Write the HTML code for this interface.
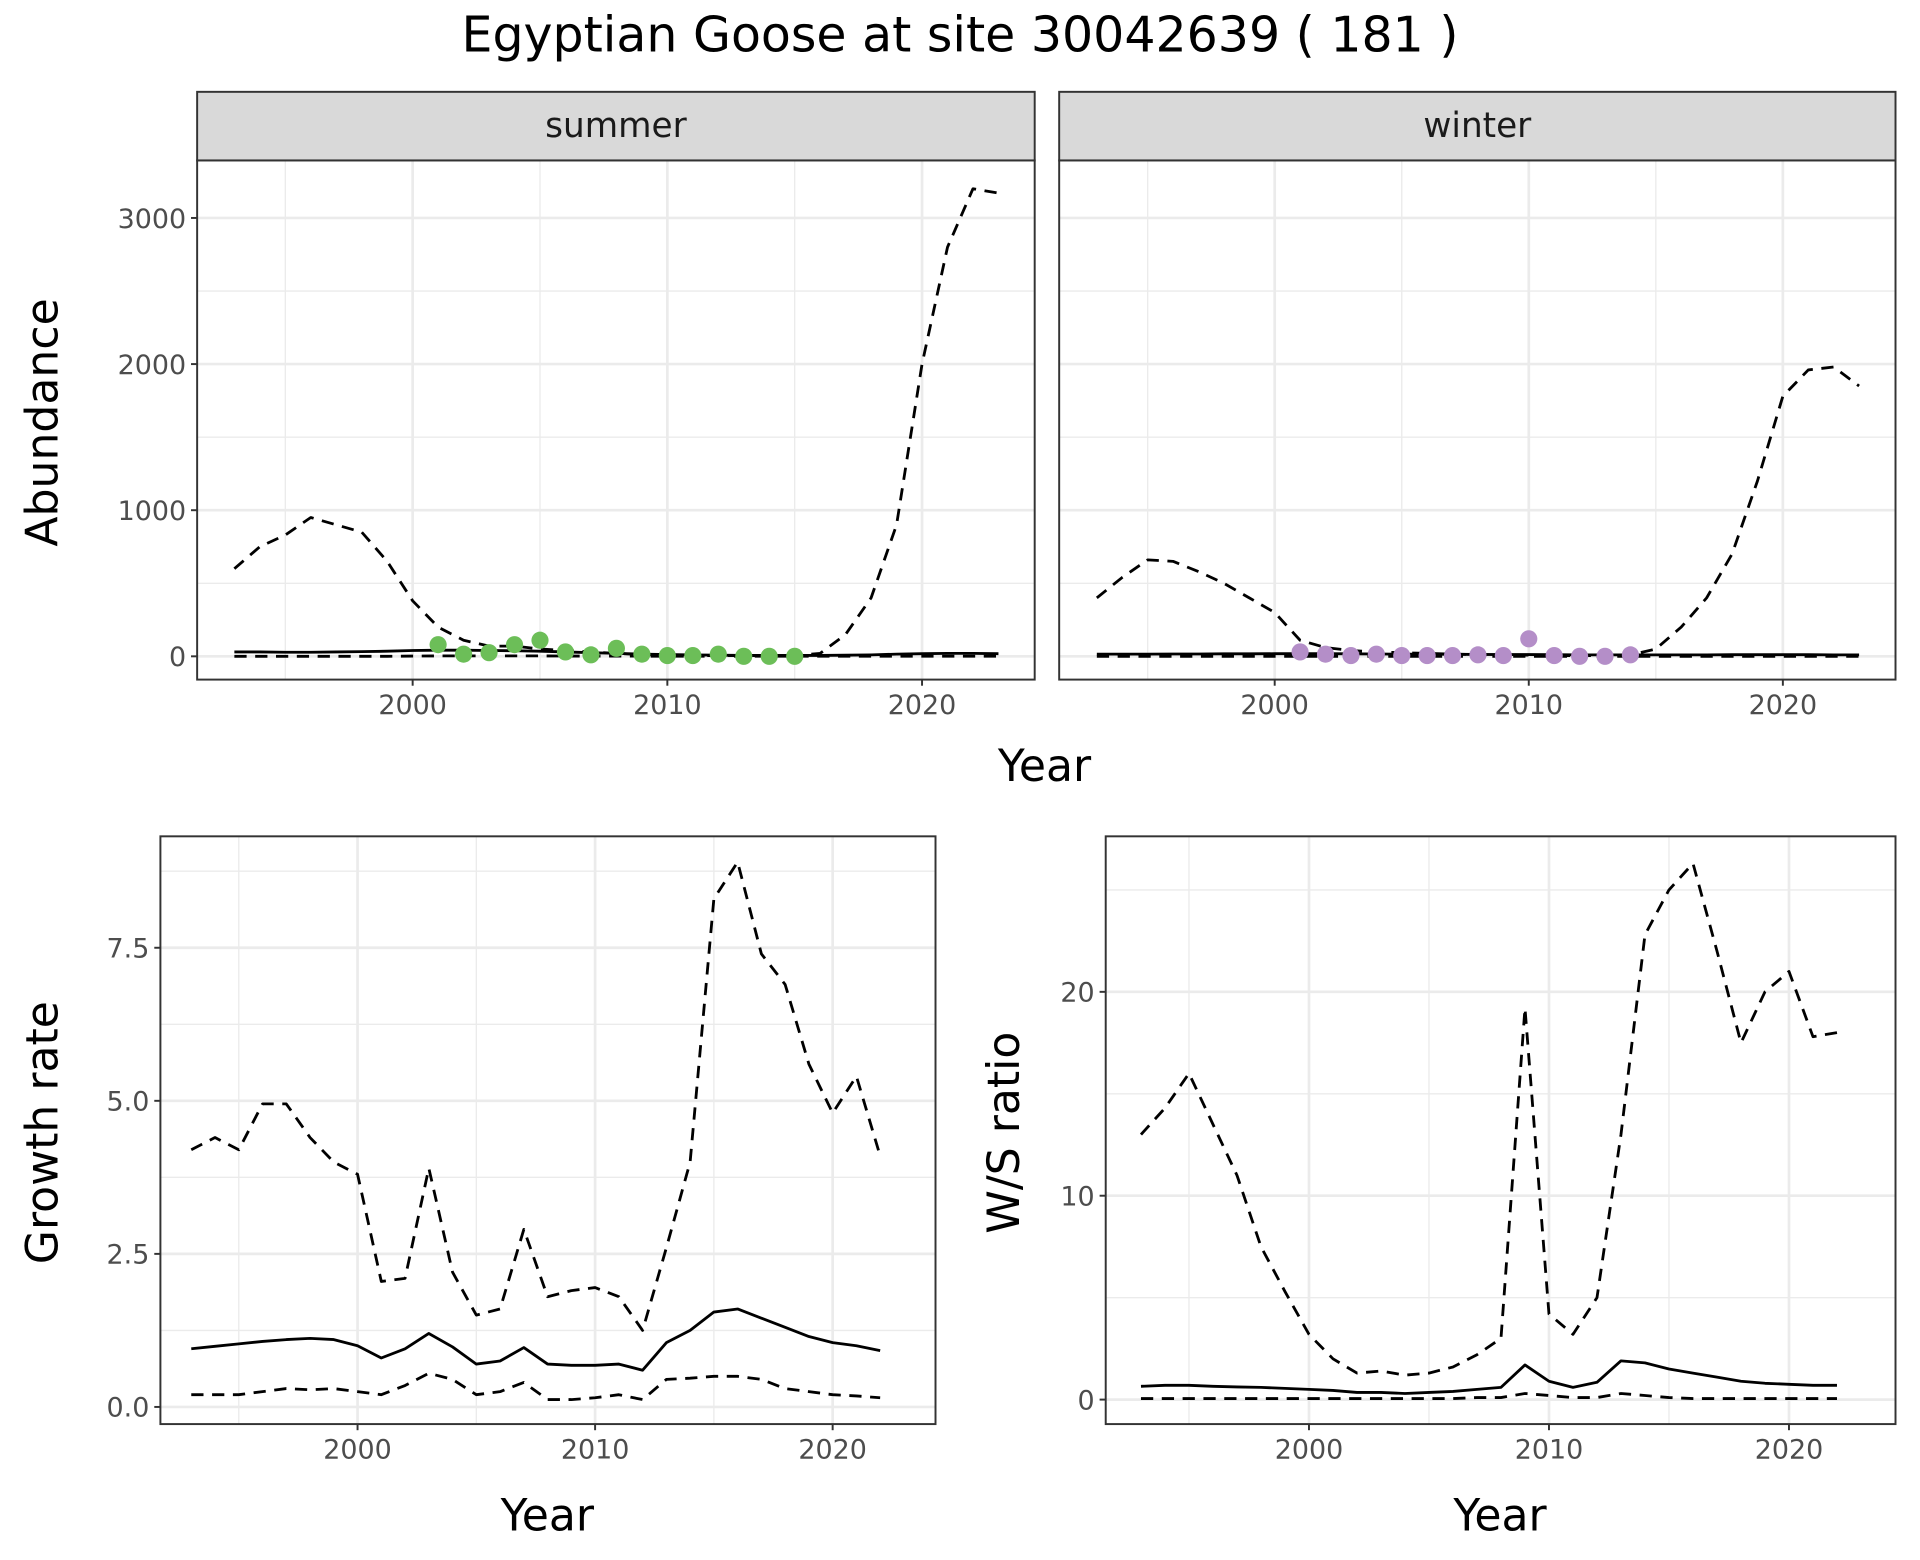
<!DOCTYPE html>
<html><head><meta charset="utf-8"><style>
html,body{margin:0;padding:0;background:#fff}
svg{display:block}
text{font-family:"DejaVu Sans","Liberation Sans",sans-serif}
</style></head><body>
<svg id="chart" width="1920" height="1560" viewBox="0 0 1568 1274" preserveAspectRatio="none" xmlns="http://www.w3.org/2000/svg">
<rect x="0" y="0" width="1568" height="1274" fill="#fff"/>
<text x="784" y="42" text-anchor="middle" font-size="40" fill="#000">Egyptian Goose at site 30042639 ( 181 )</text>
<g id="layer"></g>
</svg>
<script>
const yearsA = [1993,1994,1995,1996,1997,1998,1999,2000,2001,2002,2003,2004,2005,2006,2007,2008,2009,2010,2011,2012,2013,2014,2015,2016,2017,2018,2019,2020,2021,2022,2023];
const summerUpper = [600,750,830,950,900,850,650,380,200,110,70,70,50,40,30,20,12,8,5,5,5,5,5,20,150,400,900,2000,2800,3200,3170];
const summerMid = [30,30,28,28,30,32,35,40,42,42,40,38,35,30,25,20,15,12,10,8,6,6,6,6,8,10,15,18,20,20,18];
const summerLower = [0,0,0,0,0,0,0,2,3,3,3,3,3,2,2,2,1,1,1,1,1,1,1,1,1,1,1,1,1,1,1];
const winterUpper = [400,540,660,650,580,500,400,300,110,60,40,30,25,20,15,12,10,8,5,5,5,10,50,200,400,700,1200,1780,1960,1980,1850];
const winterMid = [15,15,15,16,16,17,17,18,18,18,17,16,15,15,14,13,12,12,11,10,10,10,10,10,10,11,11,11,11,10,10];
const winterLower = [0,0,0,0,0,0,0,0,0,0,0,0,0,0,0,0,0,0,0,0,0,0,0,0,0,0,0,0,0,0,0];
const summerPtYears = [2001,2002,2003,2004,2005,2006,2007,2008,2009,2010,2011,2012,2013,2014,2015];
const summerPtVals = [80,15,25,80,110,30,10,55,15,5,5,15,0,0,0];
const winterPtYears = [2001,2002,2003,2004,2005,2006,2007,2008,2009,2010,2011,2012,2013,2014];
const winterPtVals = [30,15,5,15,5,5,5,10,5,120,5,0,0,10];
const yearsB = [1993,1994,1995,1996,1997,1998,1999,2000,2001,2002,2003,2004,2005,2006,2007,2008,2009,2010,2011,2012,2013,2014,2015,2016,2017,2018,2019,2020,2021,2022];
const growthUpper = [4.2,4.4,4.2,4.95,4.95,4.4,4.0,3.8,2.05,2.1,3.9,2.2,1.5,1.6,2.9,1.8,1.9,1.95,1.8,1.25,2.6,4.0,8.3,8.9,7.4,6.9,5.6,4.8,5.4,4.1];
const growthMid = [0.95,0.99,1.03,1.07,1.1,1.12,1.1,1.0,0.8,0.95,1.2,0.98,0.7,0.75,0.97,0.7,0.68,0.68,0.7,0.6,1.05,1.25,1.55,1.6,1.45,1.3,1.15,1.05,1.0,0.92];
const growthLower = [0.2,0.2,0.2,0.25,0.3,0.28,0.3,0.25,0.2,0.35,0.55,0.45,0.2,0.25,0.4,0.12,0.12,0.15,0.2,0.12,0.45,0.47,0.5,0.5,0.45,0.3,0.25,0.2,0.18,0.15];
const ratioUpper = [13,14.3,16,13.5,11,7.5,5.3,3.2,2.0,1.3,1.4,1.2,1.3,1.6,2.2,3.0,19.2,4.2,3.2,5,13,22.8,25,26.3,22,17.5,20,21,17.8,18];
const ratioMid = [0.65,0.7,0.7,0.65,0.62,0.6,0.55,0.5,0.45,0.35,0.35,0.3,0.35,0.4,0.5,0.6,1.7,0.9,0.6,0.85,1.9,1.8,1.5,1.3,1.1,0.9,0.8,0.75,0.7,0.7];
const ratioLower = [0.05,0.05,0.05,0.05,0.05,0.05,0.05,0.05,0.05,0.05,0.05,0.05,0.05,0.05,0.1,0.1,0.3,0.2,0.1,0.1,0.3,0.2,0.1,0.05,0.05,0.05,0.05,0.05,0.05,0.05];
const yTicksA = [0,1000,2000,3000];
const yTickLabelsA = ['0','1000','2000','3000'];
const yTicksGrowth = [0,2.5,5,7.5];
const yTickLabelsGrowth = ['0.0','2.5','5.0','7.5'];
const yTicksRatio = [0,10,20];
const yTickLabelsRatio = ['0','10','20'];
const xTicks = [2000,2010,2020];
const xTickLabels = ['2000','2010','2020'];

const NS='http://www.w3.org/2000/svg';
const layer=document.getElementById('layer');
function mk(tag,attrs,parent){const e=document.createElementNS(NS,tag);for(const k in attrs)e.setAttribute(k,attrs[k]);(parent||layer).appendChild(e);return e;}
function lin(d0,d1,r0,r1){return v=>r0+(v-d0)*(r1-r0)/(d1-d0);}

function panel(o){
  const g=mk('g',{});
  
  
  const sx=lin(2000,2020,o.x2000,o.x2020), sy=lin(o.yv0,o.yv1,o.yp0,o.yp1);
  mk('rect',{x:o.l,y:o.t,width:o.r-o.l,height:o.b-o.t,fill:'#fff'},g);
  const minorY=[];for(let i=0;i<o.yTicks.length-1;i++)minorY.push((o.yTicks[i]+o.yTicks[i+1])/2);
  minorY.push(o.yTicks[o.yTicks.length-1]+(o.yTicks[1]-o.yTicks[0])/2);
  minorY.forEach(v=>{const y=sy(v);if(y>o.t&&y<o.b)mk('line',{x1:o.l,x2:o.r,y1:y,y2:y,stroke:'#ebebeb','stroke-width':1.1},g);});
  [1995,2005,2015].forEach(v=>{const x=sx(v);mk('line',{x1:x,x2:x,y1:o.t,y2:o.b,stroke:'#ebebeb','stroke-width':1.1},g);});
  o.yTicks.forEach(v=>{const y=sy(v);mk('line',{x1:o.l,x2:o.r,y1:y,y2:y,stroke:'#ebebeb','stroke-width':2.2},g);});
  xTicks.forEach(v=>{const x=sx(v);mk('line',{x1:x,x2:x,y1:o.t,y2:o.b,stroke:'#ebebeb','stroke-width':2.2},g);});
  const sw=2.3;
  o.series.forEach(s=>{
    const p=mk('polyline',{points:s.vals.map((v,i)=>sx(s.years[i])+','+sy(v)).join(' '),fill:'none',stroke:'#000','stroke-width':sw,'stroke-linejoin':'round'},g);
    if(s.dash)p.setAttribute('stroke-dasharray','10,7');
    
    
  });
  if(o.points){o.points.vals.forEach((v,i)=>{
    const c=mk('circle',{cx:sx(o.points.years[i]),cy:sy(v),r:7,fill:o.points.color},g);
    
    
  });}
  mk('rect',{x:o.l,y:o.t,width:o.r-o.l,height:o.b-o.t,fill:'none',stroke:'#333','stroke-width':1.6},g);
  if(o.showY){o.yTicks.forEach((v,i)=>{const y=sy(v);
    mk('line',{x1:o.l-5,x2:o.l,y1:y,y2:y,stroke:'#333','stroke-width':1.6},g);
    const t=mk('text',{x:o.l-9,y:y+8,'text-anchor':'end','font-size':22,fill:'#4d4d4d'},g);t.textContent=o.yLabels[i];
    
    
  });}
  xTicks.forEach((v,i)=>{const x=sx(v);
    mk('line',{x1:x,x2:x,y1:o.b,y2:o.b+5,stroke:'#333','stroke-width':1.6},g);
    const t=mk('text',{x:x,y:o.b+28,'text-anchor':'middle','font-size':22,fill:'#4d4d4d'},g);t.textContent=xTickLabels[i];
    
    
  });
  if(o.strip){
    mk('rect',{x:o.l,y:o.t-56,width:o.r-o.l,height:56,fill:'#d9d9d9',stroke:'#333','stroke-width':1.6},g);
    const t=mk('text',{x:(o.l+o.r)/2,y:o.t-19,'text-anchor':'middle','font-size':28,fill:'#1a1a1a'},g);t.textContent=o.strip;
    
    
  }
  return g;
}
panel({name:'summer-panel',l:161,r:845,t:131,b:555,x2000:337,x2020:753,yv0:0,yv1:3000,yp0:536,yp1:178,yTicks:yTicksA,yLabels:yTickLabelsA,showY:true,strip:'summer',
  series:[{name:'summer-upper-line',years:yearsA,vals:summerUpper,dash:true},{name:'summer-lower-line',years:yearsA,vals:summerLower,dash:true},{name:'summer-mid-line',years:yearsA,vals:summerMid}],
  points:{years:summerPtYears,vals:summerPtVals,color:'#6cbe58'}});
panel({name:'winter-panel',l:865,r:1548,t:131,b:555,x2000:1041,x2020:1456,yv0:0,yv1:3000,yp0:536,yp1:178,yTicks:yTicksA,yLabels:yTickLabelsA,showY:false,strip:'winter',
  series:[{name:'winter-upper-line',years:yearsA,vals:winterUpper,dash:true},{name:'winter-lower-line',years:yearsA,vals:winterLower,dash:true},{name:'winter-mid-line',years:yearsA,vals:winterMid}],
  points:{years:winterPtYears,vals:winterPtVals,color:'#b48ec8'}});
panel({name:'growth-rate-panel',l:131,r:764,t:683,b:1163,x2000:292,x2020:680,yv0:0,yv1:7.5,yp0:1149,yp1:774,yTicks:yTicksGrowth,yLabels:yTickLabelsGrowth,showY:true,
  series:[{name:'growth-upper-line',years:yearsB,vals:growthUpper,dash:true},{name:'growth-lower-line',years:yearsB,vals:growthLower,dash:true},{name:'growth-mid-line',years:yearsB,vals:growthMid}]});
panel({name:'ws-ratio-panel',l:903,r:1548,t:683,b:1163,x2000:1069,x2020:1461,yv0:0,yv1:20,yp0:1143,yp1:810,yTicks:yTicksRatio,yLabels:yTickLabelsRatio,showY:true,
  series:[{name:'ratio-upper-line',years:yearsB,vals:ratioUpper,dash:true},{name:'ratio-lower-line',years:yearsB,vals:ratioLower,dash:true},{name:'ratio-mid-line',years:yearsB,vals:ratioMid}]});

function label(txt,x,y,rot,name){
  const t=mk('text',{x:x,y:y,'text-anchor':'middle','font-size':36,fill:'#000'});
  if(rot)t.setAttribute('transform','rotate(-90 '+x+' '+y+')');
  t.textContent=txt;
  
  
}
label('Abundance',47,345,true,'y-axis-title-abundance');
label('Year',853,638,false,'x-axis-title-top');
label('Growth rate',47,925,true,'y-axis-title-growth');
label('Year',447,1250,false,'x-axis-title-growth');
label('W/S ratio',832,925,true,'y-axis-title-ratio');
label('Year',1225,1250,false,'x-axis-title-ratio');
</script>
</body></html>
